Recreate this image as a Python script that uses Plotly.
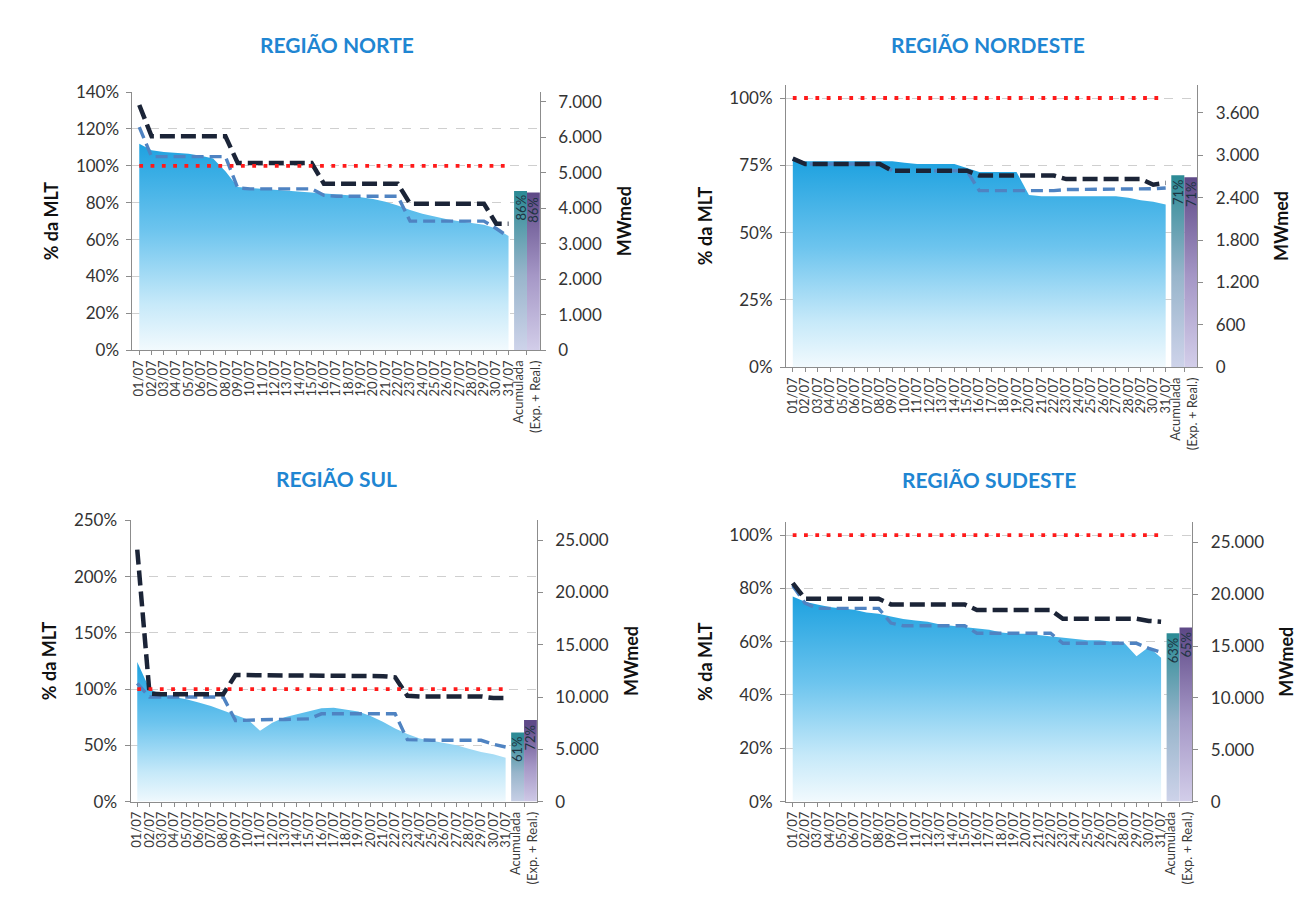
import plotly.graph_objects as go

# ---------------------------------------------------------------- data
DAYS = ["01/07", "02/07", "03/07", "04/07", "05/07", "06/07", "07/07", "08/07",
        "09/07", "10/07", "11/07", "12/07", "13/07", "14/07", "15/07", "16/07",
        "17/07", "18/07", "19/07", "20/07", "21/07", "22/07", "23/07", "24/07",
        "25/07", "26/07", "27/07", "28/07", "29/07", "30/07", "31/07"]
ACC_LABEL = "Acumulada<br>(Exp. + Real.)"
MLT_REF = 100  # % da MLT

# Região Norte (% da MLT)
NORTE_ENA = [112, 108.5, 107.5, 107, 106.5, 105.5, 104, 97, 88.5, 88, 87.5, 87, 86.5, 86,
             85.5, 85, 84.5, 84, 83, 82, 80.5, 78.5, 76, 74, 72.5, 71, 70, 69, 68, 66, 62]
NORTE_PREV = [133, 116, 116, 116, 116, 116, 116, 116, 101.5, 101.5, 101.5, 101.5, 101.5,
              101.5, 101.5, 90.3, 90.3, 90.3, 90.3, 90.3, 90.3, 90.3, 79.5, 79.5, 79.5,
              79.5, 79.5, 79.5, 79.5, 68.6, 68.6]
NORTE_SEM = [121, 105, 105, 105, 105, 105, 105, 105, 88, 87.5, 87.5, 87.5, 87.5, 87.5, 87.5,
             84, 83.5, 83.5, 83.5, 83.5, 83.5, 83.5, 70, 70, 70, 70, 70, 70, 70, 66, 61.5]
NORTE_ACC = [86.4, 85.6]

# Região Nordeste (% da MLT)
NORDESTE_ENA = [77, 76.5, 76.5, 76.5, 76.5, 76.5, 76.5, 76.5, 76.5, 76, 75.5, 75.5, 75.5,
                75.5, 74, 72.5, 72.5, 72.5, 72.5, 64, 63.5, 63.5, 63.5, 63.5, 63.5, 63.5,
                63.5, 63, 62, 61.5, 60.5]
NORDESTE_PREV = [77.5, 75.5, 75.5, 75.5, 75.5, 75.5, 75.5, 75.5, 73, 73, 73, 73, 73, 73, 73,
                 71.2, 71.2, 71.2, 71.2, 71.2, 71.2, 71.2, 69.9, 69.9, 69.9, 69.9, 69.9,
                 69.9, 69.9, 67.8, 68.5]
NORDESTE_SEM = [77.5, 75.5, 75.5, 75.5, 75.5, 75.5, 75.5, 75.5, 73, 73, 73, 73, 73, 73, 73,
                65.6, 65.6, 65.6, 65.6, 65.6, 65.6, 65.6, 66, 66, 66, 66, 66, 66, 66,
                66.3, 66.6]
NORDESTE_ACC = [71.3, 70.6]

# Região Sul (% da MLT)
SUL_ENA = [124, 100, 95, 93, 91, 88, 85, 81, 77, 73, 63, 70, 75, 77.5, 80, 83, 83.5, 82,
           80, 76, 71, 65, 60, 56, 54, 52, 50, 47, 44, 42, 39]
SUL_PREV = [224, 96, 95.5, 95.5, 95.5, 95.5, 95.5, 95.5, 112.5, 112.5, 112.5, 112.5, 112.5,
            112.5, 112.5, 111.5, 111.5, 111.5, 111.5, 111.5, 111.5, 110.5, 94, 93.5, 93.5,
            93.5, 93.5, 93.5, 93.5, 92, 92]
SUL_SEM = [105, 93, 93, 93, 93, 93, 93, 93, 72, 72.5, 72.5, 73, 73, 73.5, 73.5, 78, 78, 78,
           78, 78, 78, 78, 55, 54.5, 54.5, 54.5, 54.5, 54.5, 54.5, 51, 48.5]
SUL_ACC = [61.4, 72.4]

# Região Sudeste (% da MLT)
SUDESTE_ENA = [77, 75, 74, 73, 72.5, 72, 71, 70.5, 69.5, 68.5, 68, 67.5, 66.5, 66, 65.5,
               65, 64.5, 63.5, 63, 63, 62.5, 62, 61.5, 61, 60.5, 60.5, 60, 59.5, 54.5,
               58, 54]
SUDESTE_PREV = [82, 76.1, 76.1, 76.1, 76.1, 76.1, 76.1, 76.1, 74, 74, 74, 74, 74, 74, 74,
                71.9, 71.9, 71.9, 71.9, 71.9, 71.9, 71.9, 68.6, 68.6, 68.6, 68.6, 68.6,
                68.6, 68.6, 67.8, 67.5]
SUDESTE_SEM = [81, 74.5, 72.5, 72.5, 72.5, 72.5, 72.5, 72.5, 67, 66, 66, 66, 66, 66, 66,
               63.2, 63.2, 63.2, 63.2, 63.2, 63.2, 63.2, 59.4, 59.4, 59.4, 59.4, 59.4,
               59.4, 59.4, 57.5, 56]
SUDESTE_ACC = [63.2, 65.3]

# ---------------------------------------------------------------- styling
W, H = 1298, 902
FONT = "Lato, 'Open Sans', Arial, sans-serif"
AXIS_GREY = "#8c8c8c"
GRID_GREY = "#cfcfcf"
TITLE_BLUE = "#1f86d2"
PREV_COLOR = "#1b2437"
SEM_COLOR = "#4f83c2"
MLT_COLOR = "#ff1a1a"
AREA_CS = [[0, "#f8fcfe"], [0.25, "#c6e9f9"], [0.6, "#6cc4ee"], [1, "#1fa2e0"]]
TEAL_CS = [[0, "#d2d5ec"], [0.5, "#98b5cb"], [1, "#2d8b96"]]
PURPLE_CS = [[0, "#d6d2ec"], [0.5, "#a597c6"], [1, "#5f4a88"]]
TICK_SIZE = 17
XTICK_SIZE = 13
AXTITLE_SIZE = 18
TITLE_SIZE = 21

# plot boxes in pixels: px = (left, right), py = (top, bottom)
PANELS = [
    dict(title="REGIÃO NORTE", ena=NORTE_ENA, prev=NORTE_PREV, sem=NORTE_SEM,
         acc=NORTE_ACC, left=(140, 20), right=(7280, 1000),
         px=(131, 540), py=(83, 347.3), tpos=(336, 34)),
    dict(title="REGIÃO NORDESTE", ena=NORDESTE_ENA, prev=NORDESTE_PREV,
         sem=NORDESTE_SEM, acc=NORDESTE_ACC, left=(105, 25), right=(4000, 600),
         px=(787, 1200), py=(75.3, 364.8), tpos=(990, 34)),
    dict(title="REGIÃO SUL", ena=SUL_ENA, prev=SUL_PREV, sem=SUL_SEM, acc=SUL_ACC,
         left=(250, 50), right=(26900, 5000),
         px=(129, 537), py=(521.5, 809.4), tpos=(336, 478.5)),
    dict(title="REGIÃO SUDESTE", ena=SUDESTE_ENA, prev=SUDESTE_PREV,
         sem=SUDESTE_SEM, acc=SUDESTE_ACC, left=(105, 20), right=(27000, 5000),
         px=(787, 1195), py=(523, 809.4), tpos=(991, 479.5)),
]

fig = go.Figure()
layout = {}
annotations = []

xs = list(range(len(DAYS)))
acc_left = len(DAYS) - 0.55          # first accumulated bar starts after last day
bar_w = 1.05
x_max = acc_left + 2 * bar_w

for i, p in enumerate(PANELS):
    n = i + 1
    xname = "x" if n == 1 else f"x{n}"
    yl_n, yr_n = 2 * i + 1, 2 * i + 2
    ylname = "y" if yl_n == 1 else f"y{yl_n}"
    yrname = f"y{yr_n}"

    # daily ENA area with vertical gradient
    fig.add_trace(go.Scatter(
        x=xs, y=p["ena"], xaxis=xname, yaxis=ylname, mode="lines",
        line=dict(width=0, color="#1fa2e0"), fill="tozeroy",
        fillgradient=dict(type="vertical", colorscale=AREA_CS, start=0,
                          stop=max(p["ena"])),
        hoverinfo="skip", showlegend=False))

    # accumulated bars (gradient filled)
    for k, (val, cs) in enumerate(zip(p["acc"], [TEAL_CS, PURPLE_CS])):
        x0 = acc_left + k * bar_w
        x1 = x0 + bar_w
        fig.add_trace(go.Scatter(
            x=[x0, x1], y=[val, val], xaxis=xname, yaxis=ylname, mode="lines",
            line=dict(width=0, color=cs[-1][1]), fill="tozeroy",
            fillgradient=dict(type="vertical", colorscale=cs, start=0, stop=val),
            hoverinfo="skip", showlegend=False))
        annotations.append(dict(
            x=(x0 + x1) / 2, y=val, xref=xname, yref=ylname,
            text=f"{val:.0f}%", showarrow=False, textangle=-90,
            xanchor="center", yanchor="top", yshift=-2,
            font=dict(family=FONT, size=13, color="#1d3442")))

    # weekly blue dashed line
    fig.add_trace(go.Scatter(
        x=xs, y=p["sem"], xaxis=xname, yaxis=ylname, mode="lines",
        line=dict(color=SEM_COLOR, width=3.4, dash="12px,6px"),
        hoverinfo="skip", showlegend=False))
    # forecast dark dashed line
    fig.add_trace(go.Scatter(
        x=xs, y=p["prev"], xaxis=xname, yaxis=ylname, mode="lines",
        line=dict(color=PREV_COLOR, width=4.5, dash="15px,6px"),
        hoverinfo="skip", showlegend=False))
    # 100% MLT reference
    fig.add_trace(go.Scatter(
        x=[xs[0], xs[-1]], y=[MLT_REF, MLT_REF], xaxis=xname, yaxis=ylname,
        mode="lines", line=dict(color=MLT_COLOR, width=3.8, dash="3.8px,7.5px"),
        hoverinfo="skip", showlegend=False))
    # empty marker that attaches the MWmed axis to the subplot
    fig.add_trace(go.Scatter(
        x=[xs[0]], y=[0], xaxis=xname, yaxis=yrname, mode="markers",
        marker=dict(size=1, opacity=0), hoverinfo="skip", showlegend=False))

    xd = [p["px"][0] / W, p["px"][1] / W]
    yd = [1 - p["py"][1] / H, 1 - p["py"][0] / H]
    xkey = "xaxis" if n == 1 else f"xaxis{n}"
    ylkey = "yaxis" if yl_n == 1 else f"yaxis{yl_n}"
    yrkey = f"yaxis{yr_n}"

    layout[xkey] = dict(
        domain=xd, anchor=ylname, range=[-0.55, x_max],
        tickmode="array", tickvals=xs + [acc_left + bar_w],
        ticktext=DAYS + [ACC_LABEL], tickangle=-90,
        tickfont=dict(family=FONT, size=XTICK_SIZE, color="#3a3a3a"),
        showline=True, linecolor=AXIS_GREY, linewidth=1,
        ticks="outside", ticklen=4, tickcolor=AXIS_GREY,
        showgrid=False, zeroline=False, fixedrange=True)
    layout[ylkey] = dict(
        domain=yd, anchor=xname, range=[0, p["left"][0]], dtick=p["left"][1],
        tick0=0, ticksuffix="%",
        tickfont=dict(family=FONT, size=TICK_SIZE, color="#333333"),
        showline=True, linecolor=AXIS_GREY, linewidth=1,
        ticks="outside", ticklen=5, tickcolor=AXIS_GREY, ticklabelstandoff=4,
        showgrid=True, gridcolor=GRID_GREY, griddash="dash", gridwidth=1,
        zeroline=False,
        title=dict(text="<b>% da MLT</b>", standoff=12,
                   font=dict(family=FONT, size=AXTITLE_SIZE, color="#111111")))
    layout[yrkey] = dict(
        overlaying=ylname, side="right", anchor=xname,
        range=[0, p["right"][0]], dtick=p["right"][1], tick0=0, tickformat=",d",
        tickfont=dict(family=FONT, size=TICK_SIZE, color="#333333"),
        showline=True, linecolor=AXIS_GREY, linewidth=1,
        ticks="outside", ticklen=5, tickcolor=AXIS_GREY, ticklabelstandoff=9,
        showgrid=False, zeroline=False,
        title=dict(text="<b>MWmed</b>", standoff=17,
                   font=dict(family=FONT, size=AXTITLE_SIZE, color="#111111")))

    annotations.append(dict(
        x=p["tpos"][0] / W, y=1 - p["tpos"][1] / H, xref="paper", yref="paper",
        text=f"<b>{p['title']}</b>", showarrow=False,
        xanchor="center", yanchor="middle",
        font=dict(family=FONT, size=TITLE_SIZE, color=TITLE_BLUE)))

fig.update_layout(
    width=W, height=H, margin=dict(l=0, r=0, t=0, b=0),
    paper_bgcolor="white", plot_bgcolor="rgba(0,0,0,0)",
    separators=",.", showlegend=False,
    font=dict(family=FONT, color="#333333"),
    annotations=annotations,
    **layout)

fig.write_html("out.html")
